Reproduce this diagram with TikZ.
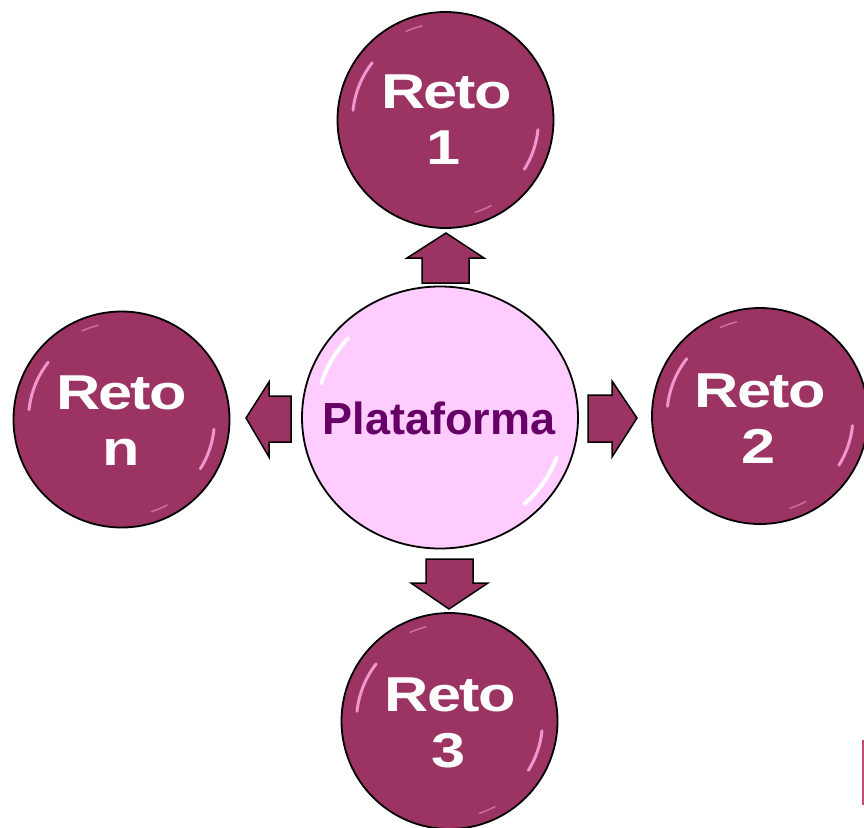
\documentclass[tikz,border=0pt]{standalone}
\usepackage{fontspec}
\usepackage{graphicx}
\setmainfont{Liberation Sans}
\usetikzlibrary{shapes.geometric}
\definecolor{plum}{RGB}{155,51,99}
\definecolor{hubpink}{RGB}{255,204,255}
\definecolor{hubtext}{RGB}{102,0,102}
\definecolor{glosspink}{RGB}{238,150,205}
\definecolor{edgepink}{RGB}{200,70,130}
\newcommand\Wide[1]{\scalebox{1.25}[1]{#1}}
\newcommand\RetoW{\Wide{R\kern-1.4pt e\kern-1.4pt t\kern-1.4pt o}}
\begin{document}
\begin{tikzpicture}[x=1pt,y=-1pt,
  reto/.style={circle, draw=black, line width=1.8pt, fill=plum, minimum size=216pt, inner sep=0pt},
  hub/.style={ellipse, draw=black, line width=1.8pt, fill=hubpink, minimum width=276pt, minimum height=262pt, inner sep=0pt},
  retotext/.style={anchor=base, text=white, font=\bfseries\fontsize{49}{49}\selectfont, inner sep=0pt},
  hubtextstyle/.style={anchor=base, text=hubtext, font=\bfseries\fontsize{45}{45}\selectfont, inner sep=0pt},
  blockarrow/.style={draw=black, line width=1.5pt, fill=plum, line join=miter},
  gloss/.style={draw=glosspink, line width=3pt, line cap=round},
  hubgloss/.style={draw=white, line width=4pt, line cap=round}]
\useasboundingbox (0,0) rectangle (864,827);
\clip (0,0) rectangle (864,827);

% circles
\node[reto] (r1) at (445.5,120) {};
\node[reto] (r2) at (760,416) {};
\node[reto] (r3) at (449.5,721) {};
\node[reto] (rn) at (121.5,419.5) {};
\node[hub] (hub) at (440,417.5) {};

% gloss highlights on dark circles
\foreach \c in {r1,r2,r3,rn}{
  \draw[gloss] (\c.center) ++(186:93) arc[start angle=186, end angle=218, radius=93];
  \draw[gloss] (\c.center) ++(6:93) arc[start angle=6, end angle=32, radius=93];
  \draw[gloss, line width=1.5pt, opacity=0.6] (\c.center) ++(246:97) arc[start angle=246, end angle=256, radius=97];
  \draw[gloss, line width=1.5pt, opacity=0.6] (\c.center) ++(62:97) arc[start angle=62, end angle=72, radius=97];
}
% gloss on hub
\draw[hubgloss] (hub.center) ++(197:124 and 118) arc[start angle=197, end angle=222, x radius=124, y radius=118];
\draw[hubgloss] (hub.center) ++(20:124 and 118) arc[start angle=20, end angle=47, x radius=124, y radius=118];

% block arrows
\draw[blockarrow] (422,283) -- (422,258) -- (407,258) -- (446,233) -- (484,258) -- (469,258) -- (469,283) -- cycle;
\draw[blockarrow] (588,395) -- (612,395) -- (612,381) -- (637,418) -- (612,457) -- (612,442) -- (588,442) -- cycle;
\draw[blockarrow] (291,396) -- (269,396) -- (269,382) -- (246,418) -- (269,457) -- (269,442) -- (291,442) -- cycle;
\draw[blockarrow] (426,559) -- (473,559) -- (473,583) -- (488,583) -- (449,609) -- (411,583) -- (426,583) -- cycle;

% texts
\node[retotext] (t1a) at (446.5,108) {\RetoW};
\node[retotext] (t1b) at (444,164) {\Wide{1}};
\node[retotext] (t2a) at (760,407) {\RetoW};
\node[retotext] (t2b) at (759,463) {\Wide{2}};
\node[retotext] (t3a) at (450,711) {\RetoW};
\node[retotext] (t3b) at (449,767) {\Wide{3}};
\node[retotext] (tna) at (121.5,409) {\RetoW};
\node[retotext] (tnb) at (121,465) {\Wide{n}};
\node[hubtextstyle] (ht) at (439,434) {Plataforma};

% edge fragment at right border
\draw[edgepink, line width=2pt] (863,740) -- (863,805);
\end{tikzpicture}
\end{document}
